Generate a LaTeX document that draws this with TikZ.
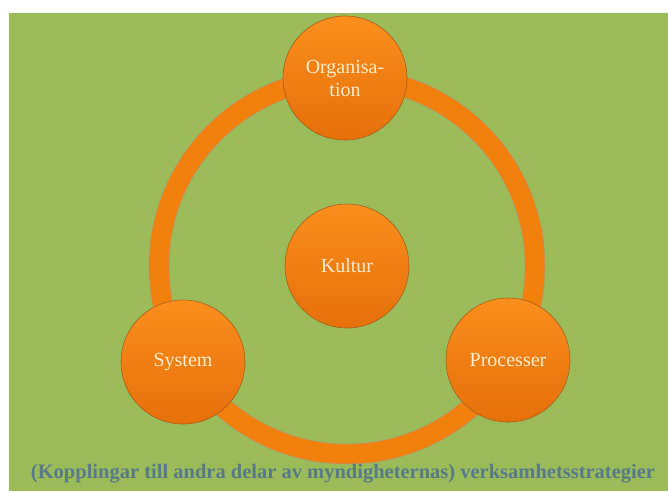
\documentclass[tikz,border=0pt]{standalone}
\usepackage{fontspec}
\setmainfont{Liberation Serif}
\usetikzlibrary{positioning, calc}
\definecolor{colorBg}{RGB}{155, 187, 89}
\definecolor{colorRing}{RGB}{242, 128, 12}
\definecolor{colorTop}{RGB}{250, 142, 28}
\definecolor{colorBot}{RGB}{230, 112, 10}
\definecolor{colorEdge}{RGB}{170, 95, 30}
\definecolor{colorLabel}{RGB}{255, 236, 205}
\definecolor{colorNote}{RGB}{88, 122, 138}
\tikzstyle{part} = [circle, minimum size=124pt, inner sep=0pt, align=center, text=colorLabel, draw=colorEdge, line width=0.6pt, top color=colorTop, bottom color=colorBot, font=\fontsize{20}{23}\selectfont]
\tikzstyle{ring} = [line width=19pt, draw=colorRing]
\tikzstyle{ringedge} = [line width=20.5pt, draw=colorEdge!70]
\tikzstyle{note} = [text=colorNote, font=\bfseries\fontsize{20.5}{23}\selectfont]

\begin{document}
\begin{tikzpicture}[x=1pt, y=-1pt]

		\useasboundingbox (0,0) rectangle (668,491);
		\fill[colorBg] (9,13) rectangle (668,491);

		% centre
		\node (kultur)[part] at (347,266) {Kultur};

		% ring
		\draw[ringedge] (kultur) circle (188);
		\draw[ring] (kultur) circle (188);

		% parts
		\node (org)[part] at (345,78) {Organisa-\\tion};
		\node (system)[part] at (183,362) {System};
		\node (proc)[part] at (508,360) {Processer};

		% caption
		\node (strategi)[note] at (343,474) {(Kopplingar till andra delar av myndigheternas) verksamhetsstrategier};

	\end{tikzpicture}
\end{document}
